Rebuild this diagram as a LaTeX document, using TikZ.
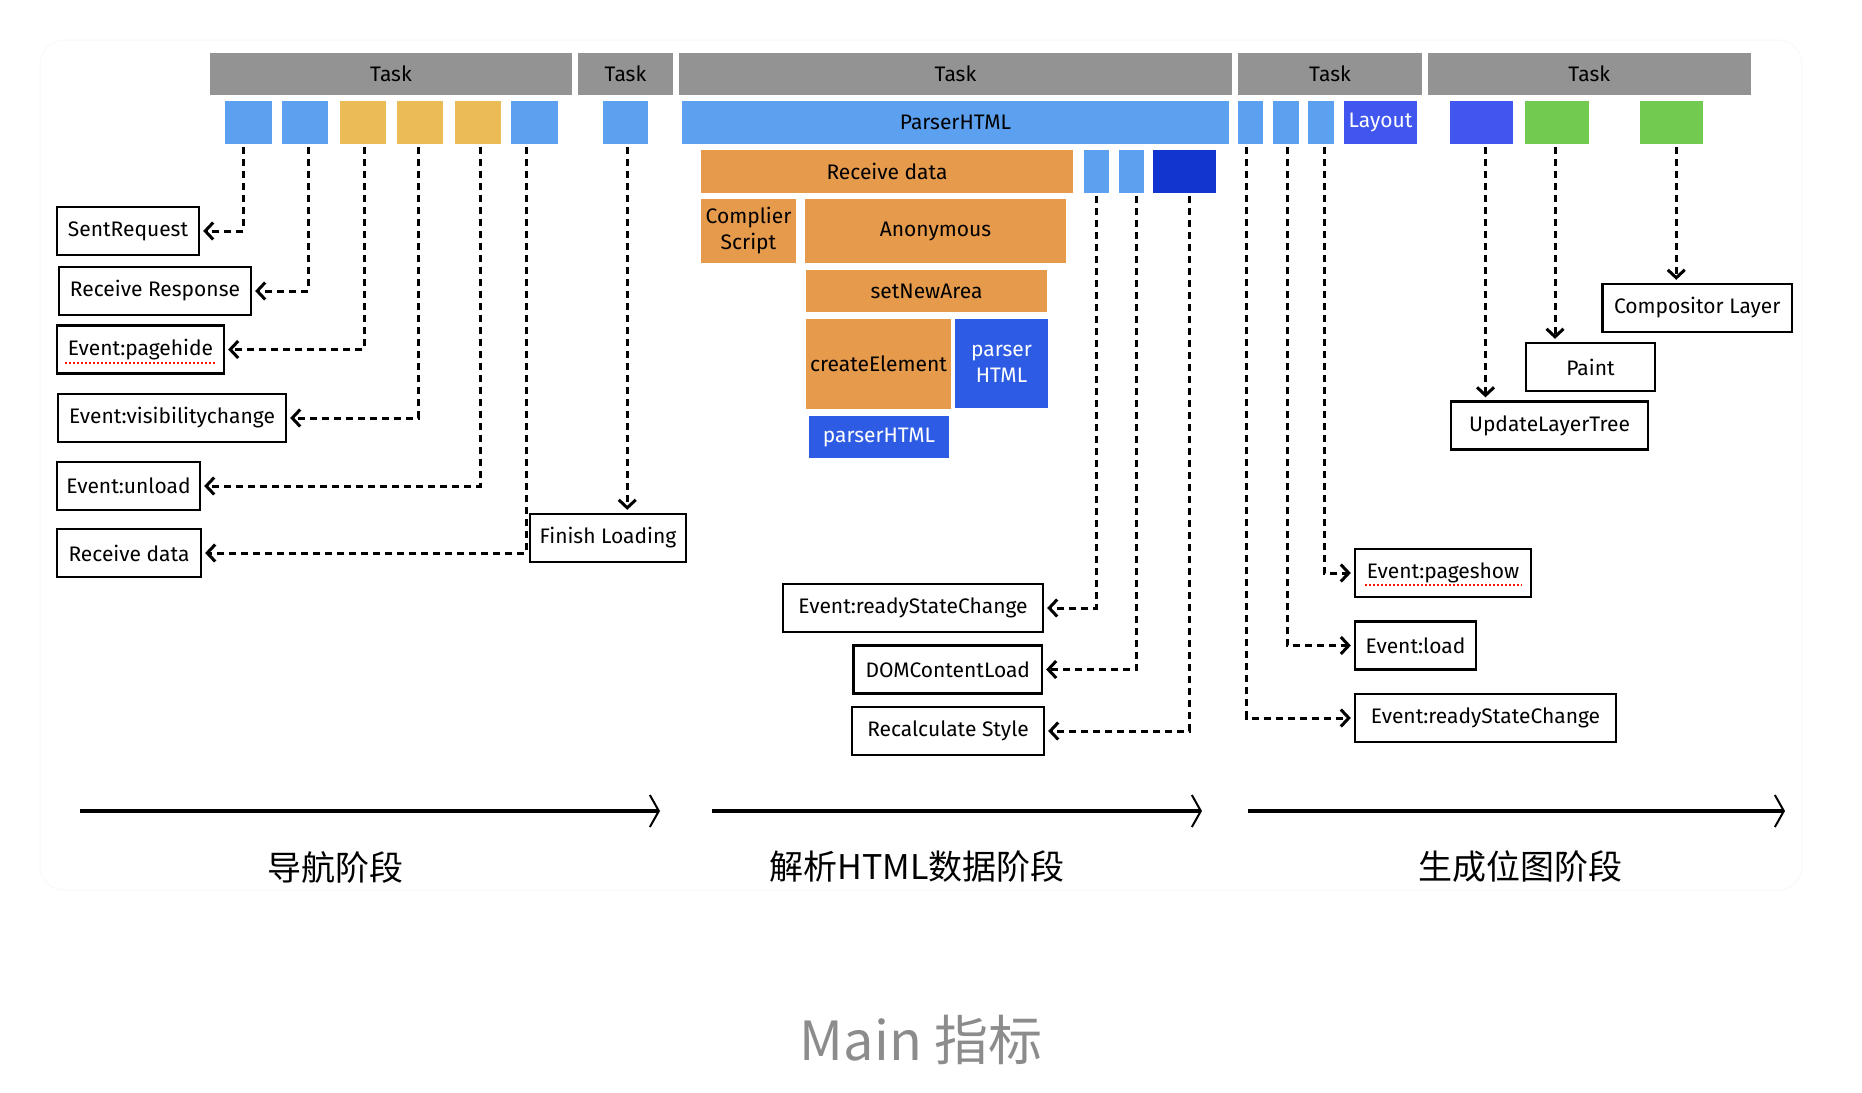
\documentclass[tikz,border=0pt]{standalone}
\usepackage{fontspec}
\setmainfont{Fira Sans}
\newfontfamily\cjk{Noto Sans CJK SC}
\usetikzlibrary{arrows.meta,calc}
\definecolor{grau}{HTML}{939393}
\definecolor{hblau}{HTML}{5BA1F0}
\definecolor{gelb}{HTML}{EBBC55}
\definecolor{orng}{HTML}{E69A4C}
\definecolor{mblau}{HTML}{2D5BE3}
\definecolor{dblau}{HTML}{1235D0}
\definecolor{kblau}{HTML}{4056EE}
\definecolor{gruen}{HTML}{72CA50}
\definecolor{titel}{HTML}{8C8C8C}
\tikzset{
  balken/.style={fill=grau,minimum height=42,inner sep=0pt,font=\fontsize{21}{25}\selectfont},
  block/.style={fill=#1,minimum height=43,inner sep=0pt,font=\fontsize{21}{26}\selectfont},
  kasten/.style={draw=black,fill=white,line width=2.3pt,minimum height=48,inner sep=0pt,font=\fontsize{21}{25}\selectfont},
  pfeil/.style={-{Straight Barb[length=8pt,width=17pt]},line width=3pt,dash pattern=on 7pt off 5pt,shorten <=3pt,shorten >=3pt},
  stufe/.style={-{Straight Barb[length=9pt,width=32pt,line width=2pt]},line width=4pt},
  stufetxt/.style={font=\cjk\fontsize{34}{40}\selectfont},
  krgl/.style={red!85!orange,dotted,line width=2pt},
}

\begin{document}
\begin{tikzpicture}[x=1pt,y=-1pt]
  \useasboundingbox (0,0) rectangle (1862,1092);
  \draw[gray!4,line width=1.5pt,rounded corners=24] (40,40) rectangle (1802,890);
  \foreach \n/\a/\b in {t1/210/572, t2/578/673, t3/679/1232, t4/1238/1422, t5/1427.5/1751}
    \node[balken,minimum width={\b-\a}] (\n) at ({(\a+\b)/2},74) {Task};
  \foreach \n/\a/\b/\c in {s1/225/272/hblau, s2/282/328/hblau, s3/340/386/gelb, s4/397/443/gelb,
      s5/455/501/gelb, s6/511/558/hblau, s7/602.5/648/hblau, s8/1238/1263/hblau, s9/1273/1299/hblau,
      s10/1308/1334/hblau, s11/1450/1513/kblau, s12/1525/1589/gruen, s13/1639.5/1703/gruen}
    \node[block=\c,minimum width={\b-\a}] (\n) at ({(\a+\b)/2},122.5) {};
  \node[block=hblau,minimum width=547] (parser) at (955.5,122.5) {ParserHTML};
  \node[block=kblau,text=white,minimum width=73] (layout) at (1380.5,122.5) {Layout};
  \node[block=orng,minimum width=372] (rdata) at (887,171.5) {Receive data};
  \foreach \n/\a/\b/\c in {m1/1084/1109/hblau, m2/1119/1144/hblau, m3/1153/1216/dblau}
    \node[block=\c,minimum width={\b-\a}] (\n) at ({(\a+\b)/2},171.5) {};
  \node[block=orng,minimum width=95,minimum height=64,align=center] (cscript) at (748.5,231) {Complier\\Script};
  \node[block=orng,minimum width=261,minimum height=64] (anon) at (935.5,231) {Anonymous};
  \node[block=orng,minimum width=241,minimum height=42] (newarea) at (926.5,291) {setNewArea};
  \node[block=orng,minimum width=145,minimum height=90] (create) at (878.5,364) {createElement};
  \node[block=mblau,text=white,minimum width=93,minimum height=89,align=center] (phtml) at (1001.5,363.5) {parser\\HTML};
  \node[block=mblau,text=white,minimum width=140,minimum height=42] (phtml2) at (879,437) {parserHTML};
  \foreach \n/\a/\b/\y/\t in {e-sent/57/199/231/SentRequest, e-resp/59/251/291/Receive Response,
      e-hide/57/224/349.5/Event:pagehide, e-vis/58/286/418/Event:visibilitychange,
      e-unload/57/200/486/Event:unload, e-rdata/57/201/553/Receive data, e-fin/530/686/538/Finish Loading,
      e-rsc/783/1043/608/Event:readyStateChange, e-dcl/853.5/1042/669.5/DOMContentLoad,
      e-rcs/852/1044/731/Recalculate Style, e-comp/1602.5/1792/308/Compositor Layer,
      e-paint/1526/1655/367/Paint, e-ult/1451/1648/425.5/UpdateLayerTree,
      e-show/1355/1531/573/Event:pageshow, e-load/1355/1476/645.5/Event:load,
      e-rsc2/1355/1616/718/Event:readyStateChange}
    \node[kasten,minimum width={\b-\a}] (\n) at ({(\a+\b)/2},\y) {\t};
  \draw[krgl] ($(e-hide.south west)+(9,-12)$) -- ($(e-hide.south east)+(-9,-12)$);
  \draw[krgl] ($(e-show.south west)+(11,-13)$) -- ($(e-show.south east)+(-11,-13)$);
  \foreach \a/\b/\d in {s1/e-sent/-5, s2/e-resp/3, s3/e-hide/1, s4/e-vis/-2, s5/e-unload/2,
      s6/e-rdata/-8, m1/e-rsc/0, m2/e-dcl/5, m3/e-rcs/5}
    \draw[pfeil] ([xshift=\d]\a.south) |- (\b.east);
  \foreach \a/\b/\d in {s8/e-rsc2/-4, s9/e-load/1, s10/e-show/3}
    \draw[pfeil] ([xshift=\d]\a.south) |- (\b.west);
  \foreach \a/\b/\d in {s7/e-fin/2, s11/e-ult/4, s12/e-paint/-2, s13/e-comp/5}
    \draw[pfeil] ([xshift=\d]\a.south) -- ([xshift=\d]\a.south |- \b.north);
  \draw[stufe] (80,811) -- (660,811);
  \draw[stufe] (712,811) -- (1202,811);
  \draw[stufe] (1248,811) -- (1785,811);
  \node[stufetxt] (nav) at (335,867) {导航阶段};
  \node[stufetxt] (parse) at (917,867) {解析HTML数据阶段};
  \node[stufetxt] (bitmap) at (1520,867) {生成位图阶段};
  \node[font=\cjk\fontsize{54}{60}\selectfont,text=titel] (main) at (921,1040) {Main 指标};
\end{tikzpicture}
\end{document}
